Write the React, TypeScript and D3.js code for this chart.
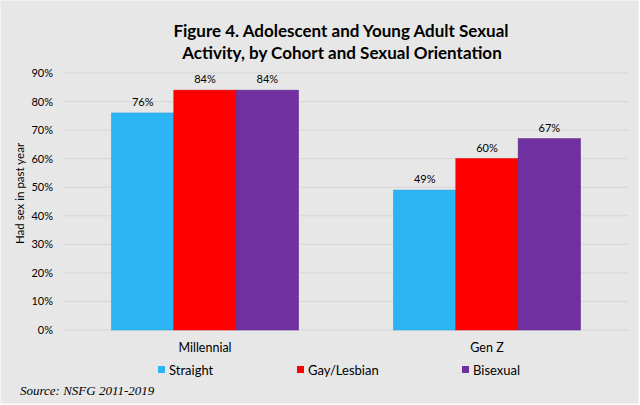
import React from 'react';
import * as d3 from 'd3';

const cohorts = ['Millennial', 'Gen Z'];
const orientations = ['Straight', 'Gay/Lesbian', 'Bisexual'];
const straight = [76, 49];
const gayLesbian = [84, 60];
const bisexual = [84, 67];
const yTicks = [0, 10, 20, 30, 40, 50, 60, 70, 80, 90];
const colors = ['#2CB5F4', '#FF0000', '#7030A0'];

const W = 640;
const H = 405;
const FONT = 'Lato, "Open Sans", sans-serif';

export default function App() {
  const series = [straight, gayLesbian, bisexual];
  const x0 = d3.scaleBand().domain(cohorts).range([64, 628]).paddingInner(0.337).paddingOuter(0.1685);
  const x1 = d3.scaleBand().domain(orientations).range([0, x0.bandwidth()]);
  const y = d3.scaleLinear().domain([0, 90]).range([330, 73]);

  // legend entries sit at fixed positions below the plot
  const legendX = [158, 297, 462];

  return (
    <svg width={W} height={H} style={{ display: 'block', position: 'absolute', left: 0, top: 0 }}>
      <rect x={0.5} y={0.5} width={W - 2} height={H - 2} fill="#E7E7E7" stroke="#F2F2F2" />
      <text x={341} y={37} textAnchor="middle" fontFamily={FONT} fontWeight="bold" fontSize={17} fill="#000">
        Figure 4. Adolescent and Young Adult Sexual
      </text>
      <text x={342} y={59} textAnchor="middle" fontFamily={FONT} fontWeight="bold" fontSize={17} fill="#000">
        Activity, by Cohort and Sexual Orientation
      </text>

      {yTicks.map(t => (
        <g key={t}>
          <line x1={64} x2={628} y1={y(t)} y2={y(t)} stroke="#D6D6D6" strokeWidth={1} />
          <text x={53} y={y(t) + 4} textAnchor="end" fontFamily={FONT} fontSize={11} fill="#000">
            {t}%
          </text>
        </g>
      ))}

      <text
        transform={`translate(24, ${(y(0) + y(90)) / 2 - 8}) rotate(-90)`}
        textAnchor="middle"
        fontFamily={FONT}
        fontSize={11.5}
        fill="#000"
      >
        Had sex in past year
      </text>

      {cohorts.map((c, ci) => (
        <g key={c} transform={`translate(${x0(c)},0)`}>
          {orientations.map((o, oi) => {
            const v = series[oi][ci];
            const bx = x1(o)!;
            return (
              <g key={o}>
                <rect
                  x={bx}
                  y={y(v)}
                  width={x1.bandwidth()}
                  height={y(0) - y(v)}
                  fill={colors[oi]}
                  stroke={d3.color(colors[oi])!.darker(0.3).toString()}
                  strokeWidth={0.6}
                />
                <text
                  x={bx + x1.bandwidth() / 2}
                  y={y(v) - 7}
                  textAnchor="middle"
                  fontFamily={FONT}
                  fontSize={11}
                  fill="#000"
                >
                  {v}%
                </text>
              </g>
            );
          })}
          <text x={x0.bandwidth() / 2} y={352} textAnchor="middle" fontFamily={FONT} fontSize={12.5} fill="#000">
            {c}
          </text>
        </g>
      ))}

      {orientations.map((o, i) => (
        <g key={o}>
          <rect x={legendX[i]} y={366} width={7} height={7} fill={colors[i]} />
          <text x={legendX[i] + 11} y={375} fontFamily={FONT} fontSize={13} fill="#000">
            {o}
          </text>
        </g>
      ))}

      <text x={20} y={395} fontFamily='"Liberation Serif", "Times New Roman", serif' fontStyle="italic" fontSize={13} fill="#000">
        Source: NSFG 2011-2019
      </text>
    </svg>
  );
}
